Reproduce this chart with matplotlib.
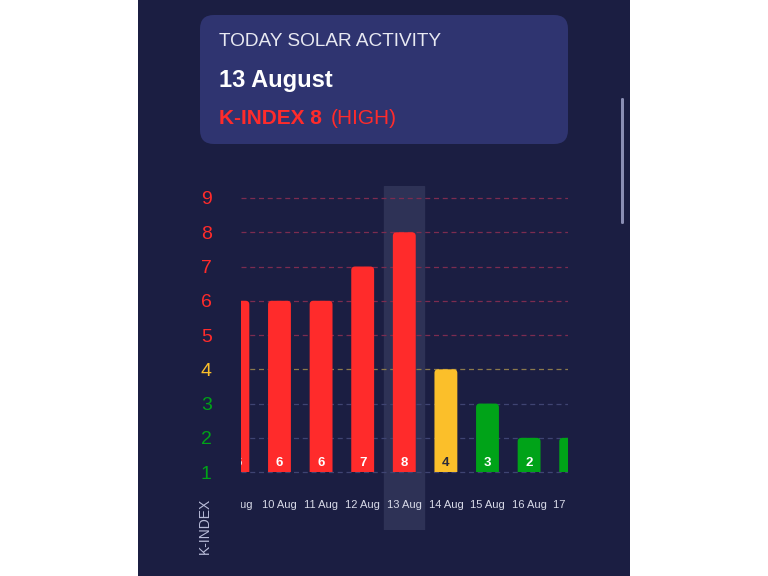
import matplotlib
matplotlib.use('Agg')
import matplotlib.pyplot as plt
from matplotlib.patches import FancyBboxPatch, Rectangle

days = ['9 Aug', '10 Aug', '11 Aug', '12 Aug', '13 Aug', '14 Aug', '15 Aug', '16 Aug', '17 Aug']
kp = [6, 6, 6, 7, 8, 4, 3, 2, 2]
levels = [1, 2, 3, 4, 5, 6, 7, 8, 9]
today = 4

RED = '#ff2b2b'
YELLOW = '#fbbf2a'
GREEN = '#00a318'
BG = '#1b1e42'


def level_color(v):
    if v >= 5:
        return RED
    if v == 4:
        return YELLOW
    return GREEN


def grid_color(v):
    if v >= 5:
        return '#7c2c50'
    if v == 4:
        return '#8c7a4c'
    return '#3f4472'


plt.rcParams['font.family'] = ['Liberation Sans', 'DejaVu Sans']

fig = plt.figure(figsize=(7.68, 5.76), dpi=100, facecolor='white')
W, H = 768, 576

# dark panel
fig.patches.append(Rectangle((138 / W, 0), (630 - 138) / W, 1, transform=fig.transFigure,
                             facecolor=BG, edgecolor='none', zorder=-2))
# header card
fig.patches.append(FancyBboxPatch((200 / W, 1 - 144 / H), 368 / W, 129 / H,
                                  boxstyle='round,pad=0,rounding_size=0.018',
                                  mutation_aspect=W / H,
                                  transform=fig.transFigure, facecolor='#2f3470',
                                  edgecolor='none', zorder=-1))
# scrollbar
fig.patches.append(FancyBboxPatch((621 / W, 1 - 224 / H), 3 / W, 126 / H,
                                  boxstyle='round,pad=0,rounding_size=0.002',
                                  transform=fig.transFigure, facecolor='#8a8eb4',
                                  edgecolor='none', zorder=-1))

fig.text(219 / W, 1 - 41 / H, 'TODAY SOLAR ACTIVITY', color='#e8e9f2', fontsize=13.7,
         va='center', ha='left')
fig.text(219 / W, 1 - 80 / H, '13 August', color='white', fontsize=17, fontweight='bold',
         va='center', ha='left')
fig.text(219 / W, 1 - 118 / H, 'K-INDEX 8', color=RED, fontsize=15, fontweight='bold',
         va='center', ha='left')
fig.text(331 / W, 1 - 118 / H, '(HIGH)', color=RED, fontsize=15, va='center', ha='left')

ax = fig.add_axes([241 / W, 46 / H, 327 / W, 344 / H])
ax.set_zorder(2)
ax.set_facecolor('none')
x0, x1 = 0.075, 7.935
ax.set_xlim(x0, x1)
ax.set_ylim(-0.69, 9.35)
for s in ax.spines.values():
    s.set_visible(False)

ax.axvspan(today - 0.48, today + 0.48, color='#2e3256', zorder=0)

for lv in levels:
    ax.axhline(lv, color=grid_color(lv), lw=0.9, ls=(0, (4, 3)), zorder=1)

x = list(range(len(days)))
bars = ax.bar(x, [v - 1 for v in kp], bottom=1, width=0.55, color='none')
for i, b in enumerate(bars):
    c = level_color(kp[i])
    bx, by, bw, bh = b.get_x(), b.get_y(), b.get_width(), b.get_height()
    p = FancyBboxPatch((bx, by - 0.3), bw, bh + 0.3, boxstyle='round,pad=0,rounding_size=0.09',
                       mutation_aspect=1.2, facecolor=c, edgecolor='none', zorder=2)
    ax.add_patch(p)
    p.set_clip_path(Rectangle((x0, by), x1 - x0, 20, transform=ax.transData))
    ax.text(i, 1.26, str(kp[i]), ha='center', va='center', fontsize=9.5, fontweight='bold',
            color='#2a2a3a' if kp[i] == 4 else 'white', zorder=3, clip_on=True)
    ax.text(i, 0.03, days[i], ha='center', va='center', fontsize=8, color='#d8dae8',
            zorder=3, clip_on=True)

ax.set_xticks([])
ax.set_yticks(levels)
ax.set_yticklabels([str(v) for v in levels], fontsize=14)
for lab, v in zip(ax.get_yticklabels(), levels):
    lab.set_color(level_color(v))
    lab.set_horizontalalignment('center')
ax.tick_params(axis='y', length=0, pad=25)

fig.text(205 / W, 1 - 526 / H, 'K-INDEX', rotation=90, color='#b8bbd8', fontsize=10,
         ha='center', va='center')

fig.savefig('out.png', dpi=100, facecolor='white')
